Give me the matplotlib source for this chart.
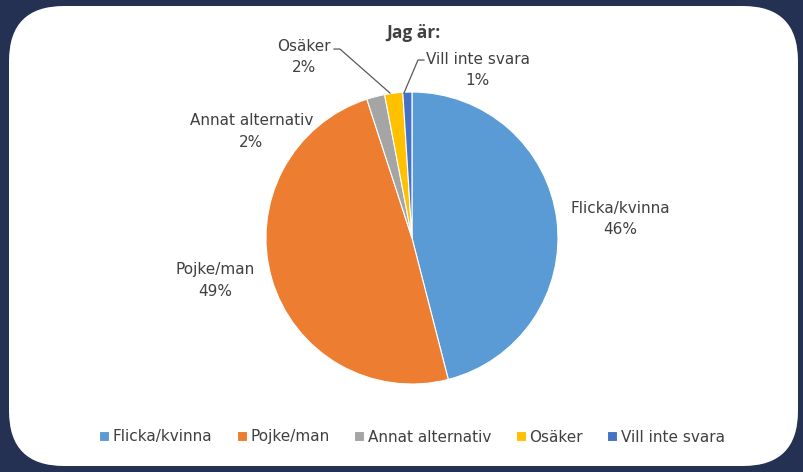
import matplotlib.pyplot as plt
from matplotlib.patches import FancyBboxPatch

# data
labels = ['Flicka/kvinna', 'Pojke/man', 'Annat alternativ', 'Osäker', 'Vill inte svara']
values = [46, 49, 2, 2, 1]
colors = ['#5B9BD5', '#ED7D31', '#A5A5A5', '#FFC000', '#4472C4']

plt.rcParams['font.family'] = ['DejaVu Sans']
txt = '#404040'

fig = plt.figure(figsize=(8.04, 4.72), dpi=100)
fig.patch.set_facecolor('#243152')

# white rounded panel, drawn in pixel coords
bg = fig.add_axes([0, 0, 1, 1])
bg.set_xlim(0, 804)
bg.set_ylim(472, 0)
bg.axis('off')
bg.add_patch(FancyBboxPatch((12, 10), 786, 456, boxstyle='round,pad=0,rounding_size=55',
                            facecolor='#3a4660', edgecolor='none', alpha=0.6))
bg.add_patch(FancyBboxPatch((9, 6), 789, 460, boxstyle='round,pad=0,rounding_size=55',
                            facecolor='white', edgecolor='none'))

# pie
ax = fig.add_axes([0.3308, 0.1864, 0.3632, 0.6186])
wedges, _ = ax.pie(values, colors=colors, startangle=90, counterclock=False,
                   wedgeprops=dict(edgecolor='white', linewidth=0.8))
ax.set_xlim(-1, 1)
ax.set_ylim(-1, 1)
ax.set_aspect('auto')

fig.text(413 / 804, 1 - 33 / 472, 'Jag är:', ha='center', va='center',
         fontsize=12.5, fontweight='bold', color=txt, family='Open Sans')

# data labels (positions in pie-axes units)
lab_pos = [(1.425, 0.13), (-1.35, -0.29), (-1.10, 0.73), (-0.74, 1.24), (0.45, 1.15)]
for lab, v, (x, y) in zip(labels, values, lab_pos):
    ax.text(x, y, '%s\n%d%%' % (lab, v), ha='center', va='center', fontsize=11,
            color=txt, linespacing=1.55, clip_on=False)

# leader lines for small slices
def px(x, y):
    return (x - 412) / 146, (238 - y) / 146

for pts in [[(334, 49), (340, 49), (390, 93)], [(424, 60), (418, 60), (404, 93)]]:
    xs, ys = zip(*[px(*p) for p in pts])
    ax.plot(xs, ys, color='#595959', lw=0.9, clip_on=False)

fig.legend(wedges, labels, loc='center', bbox_to_anchor=(412 / 804, 1 - 437 / 472), ncol=5,
           frameon=False, fontsize=11, handlelength=0.65, handleheight=0.65,
           handletextpad=0.25, columnspacing=1.6, labelcolor=txt)

fig.savefig('out.png', dpi=100, facecolor=fig.get_facecolor())
